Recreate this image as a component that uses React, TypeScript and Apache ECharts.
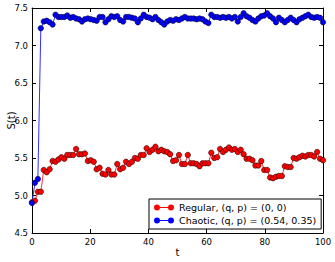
import React, { useEffect, useRef } from "react";
import * as echarts from "echarts";

// 100 samples evenly spread over t in [0, 100]
const SAMPLE_COUNT = 100;
const T_END = 100;

const regularValues = [
  4.91, 4.93, 5.05, 5.05, 5.34, 5.31, 5.35, 5.46, 5.45, 5.48,
  5.51, 5.49, 5.54, 5.54, 5.54, 5.62, 5.55, 5.55, 5.56, 5.46,
  5.47, 5.45, 5.35, 5.37, 5.29, 5.28, 5.34, 5.28, 5.28, 5.42,
  5.35, 5.37, 5.45, 5.42, 5.45, 5.50, 5.49, 5.54, 5.54, 5.63,
  5.58, 5.61, 5.65, 5.59, 5.61, 5.59, 5.58, 5.55, 5.46, 5.47,
  5.54, 5.42, 5.42, 5.54, 5.43, 5.43, 5.42, 5.39, 5.43, 5.43,
  5.43, 5.57, 5.50, 5.51, 5.62, 5.58, 5.61, 5.64, 5.61, 5.62,
  5.58, 5.61, 5.55, 5.49, 5.49, 5.47, 5.40, 5.40, 5.46, 5.34,
  5.34, 5.24, 5.23, 5.25, 5.26, 5.26, 5.39, 5.38, 5.38, 5.50,
  5.49, 5.51, 5.53, 5.52, 5.54, 5.54, 5.52, 5.58, 5.49, 5.47,
];

const chaoticValues = [
  4.90, 5.17, 5.22, 7.23, 7.32, 7.33, 7.31, 7.28, 7.41, 7.38,
  7.38, 7.38, 7.40, 7.37, 7.38, 7.36, 7.35, 7.32, 7.35, 7.36,
  7.35, 7.34, 7.33, 7.38, 7.38, 7.31, 7.35, 7.39, 7.38, 7.39,
  7.34, 7.32, 7.38, 7.38, 7.37, 7.36, 7.31, 7.36, 7.41, 7.38,
  7.37, 7.35, 7.38, 7.34, 7.31, 7.28, 7.32, 7.34, 7.33, 7.35,
  7.34, 7.36, 7.38, 7.36, 7.36, 7.36, 7.35, 7.36, 7.35, 7.32,
  7.30, 7.41, 7.38, 7.38, 7.37, 7.38, 7.37, 7.38, 7.36, 7.38,
  7.32, 7.38, 7.43, 7.39, 7.37, 7.34, 7.32, 7.36, 7.39, 7.40,
  7.43, 7.39, 7.36, 7.31, 7.37, 7.34, 7.31, 7.34, 7.37, 7.34,
  7.31, 7.35, 7.37, 7.39, 7.41, 7.38, 7.37, 7.38, 7.37, 7.31,
];

const seriesNames = ["Regular, (q, p) = (0, 0)", "Chaotic, (q, p) = (0.54, 0.35)"];
const xTicks = { min: 0, max: 100, interval: 20 };
const yTicks = { min: 4.5, max: 7.5, interval: 0.5 };

const FONT = "DejaVu Sans";
const legendIcon =
  "path://M0,3A3,3,0,1,1,6,3A3,3,0,1,1,0,3ZM14,3A3,3,0,1,1,20,3A3,3,0,1,1,14,3ZM6,2.5L14,2.5L14,3.5L6,3.5Z";

export default function App() {
  const ref = useRef<HTMLDivElement>(null);
  useEffect(() => {
    if (!ref.current) return;
    const chart = echarts.init(ref.current, undefined, { renderer: "svg" });
    const times = Array.from({ length: SAMPLE_COUNT }, (_, i) => (i * T_END) / (SAMPLE_COUNT - 1));
    const toPairs = (vals: number[]) => vals.map((v, i) => [times[i], v]);
    const axisLine = { show: true, onZero: false, lineStyle: { color: "#000", width: 1 } };
    const axisTick = { show: true, inside: true, length: 4, lineStyle: { color: "#000", width: 1 } };
    chart.setOption({
      animation: false,
      backgroundColor: "#fff",
      grid: { left: 32, right: 12, top: 8, bottom: 29, containLabel: false, outerBoundsMode: "none" },
      xAxis: [
        {
          type: "value", position: "bottom", ...xTicks,
          axisLine, axisTick,
          splitLine: { show: false },
          axisLabel: { color: "#000", fontFamily: FONT, fontSize: 8.5, margin: 4 },
          name: "t", nameLocation: "middle", nameGap: 14, nameMoveOverlap: false,
          nameTextStyle: { color: "#000", fontFamily: FONT, fontSize: 10 },
        },
        {
          type: "value", position: "top", ...xTicks,
          axisLine, axisTick,
          splitLine: { show: false },
          axisLabel: { show: false },
        },
      ],
      yAxis: [
        {
          type: "value", position: "left", ...yTicks,
          axisLine, axisTick,
          splitLine: { show: false },
          axisLabel: {
            color: "#000", fontFamily: FONT, fontSize: 8.5, margin: 4,
            formatter: (v: number) => v.toFixed(1),
          },
          name: "S(t)", nameLocation: "middle", nameGap: 16, nameMoveOverlap: false,
          nameTextStyle: { color: "#000", fontFamily: FONT, fontSize: 10 },
        },
        {
          type: "value", position: "right", ...yTicks,
          axisLine, axisTick,
          splitLine: { show: false },
          axisLabel: { show: false },
        },
      ],
      legend: {
        data: seriesNames,
        orient: "vertical",
        left: 149,
        top: 199,
        backgroundColor: "#fff",
        borderColor: "#000",
        borderWidth: 1,
        borderRadius: 0,
        padding: [3, 5],
        itemGap: 2,
        itemWidth: 20,
        itemHeight: 6,
        icon: legendIcon,
        itemStyle: { borderWidth: 0 },
        textStyle: { color: "#000", fontFamily: FONT, fontSize: 9.5, lineHeight: 11 },
      },
      series: [
        {
          name: seriesNames[0], type: "line", data: toPairs(regularValues),
          symbol: "circle", symbolSize: 5.5, showSymbol: true,
          color: "#ff0000",
          lineStyle: { color: "#ff3030", width: 1 },
          itemStyle: { color: "#ff0000", borderColor: "#000", borderWidth: 0.5 },
          emphasis: { disabled: true },
        },
        {
          name: seriesNames[1], type: "line", data: toPairs(chaoticValues),
          symbol: "circle", symbolSize: 5.5, showSymbol: true,
          color: "#0000ff",
          lineStyle: { color: "#3030ff", width: 1 },
          itemStyle: { color: "#0000ff", borderColor: "#000", borderWidth: 0.5 },
          emphasis: { disabled: true },
        },
      ],
    });
    return () => chart.dispose();
  }, []);
  return (
    <div
      ref={ref}
      style={{ position: "absolute", left: 0, top: 0, width: 335, height: 262 }}
    />
  );
}
